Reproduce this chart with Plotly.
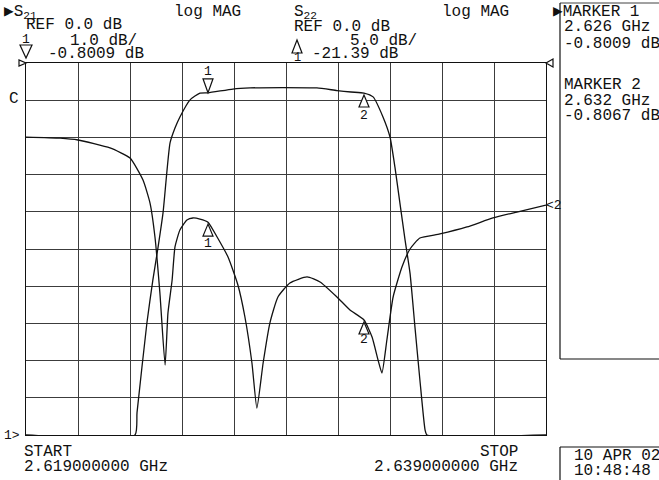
import plotly.graph_objects as go

# ---------------- data ----------------
START_GHZ = 2.619
STOP_GHZ = 2.639

# S21 (1 dB/div, ref 0 dB at top)
s21_off_mhz = [0, 4.19, 4.27, 4.65, 4.88, 5.08, 5.27, 5.54, 5.73, 5.92, 6.31, 6.69, 7.0,
               7.96, 8.62, 9.88, 11.19, 11.96, 12.5, 13.0, 13.35, 13.73, 14.0, 14.19,
               14.38, 14.58, 14.77, 14.96, 15.15, 15.35, 15.42, 20.0]
s21_db = [-10, -10, -9.4, -6.99, -5.83, -4.95, -4.03, -2.15, -1.75, -1.45, -0.99, -0.81, -0.8009,
          -0.70, -0.67, -0.66, -0.67, -0.74, -0.78, -0.8067, -0.91, -1.45, -1.99, -2.80,
          -3.76, -4.76, -5.65, -7.10, -8.52, -9.87, -10, -10]

# S22 (5 dB/div, ref 0 dB at top)
s22_off_mhz = [0, 1.31, 2.0, 3.23, 4.0, 4.5, 4.77, 4.96, 5.15, 5.35, 5.46, 5.62, 5.73, 5.92,
               6.19, 6.42, 6.69, 7.0, 7.35, 7.77, 8.15, 8.42, 8.69, 8.88, 9.12, 9.38,
               9.69, 10.15, 10.81, 11.31, 11.96, 12.46, 13.0, 13.31, 13.54, 13.69, 13.88,
               14.12, 14.46, 14.77, 15.15, 15.92, 16.96, 17.96, 18.88, 20.0]
s22_db = [-9.95, -10.1, -10.35, -11.42, -12.77, -15.73, -18.82, -23.39, -30.91, -40.59, -33.6,
          -29.17, -24.73, -22.45, -21.1, -20.83, -20.97, -21.39, -23.39, -26.08, -29.84,
          -34.14, -40.32, -46.37, -40.32, -34.95, -31.45, -29.57, -28.76, -29.43, -31.45,
          -33.2, -34.54, -36.83, -39.92, -41.67, -37.23, -31.45, -27.42, -25.0, -23.52,
          -22.98, -22.04, -20.83, -20.03, -19.09]

marker_freq_ghz = [2.626, 2.632]
marker_s21_db = [-0.8009, -0.8067]
marker_s22_db = [-21.39, -34.54]

s21_f = [START_GHZ + m / 1000 for m in s21_off_mhz]
s22_f = [START_GHZ + m / 1000 for m in s22_off_mhz]

# ---------------- layout helpers ----------------
W, H = 659, 480
L, R, T, B = 26, 546, 63, 435


def px(x):
    return (x - L) / (R - L)


def py(y):
    return (B - y) / (B - T)


FONT = "Liberation Mono, DejaVu Sans Mono, monospace"
INK = "#111111"

fig = go.Figure()
fig.add_trace(go.Scatter(x=s21_f, y=s21_db, mode="lines", yaxis="y",
                         line=dict(color=INK, width=1.3, shape="spline", smoothing=0.5),
                         showlegend=False, hoverinfo="skip"))
fig.add_trace(go.Scatter(x=s22_f, y=s22_db, mode="lines", yaxis="y2",
                         line=dict(color=INK, width=1.3, shape="spline", smoothing=0.5),
                         showlegend=False, hoverinfo="skip"))

ann = []


def txt(s, x, y, size=16, anchor="left"):
    ann.append(dict(text=s, x=px(x), y=py(y), xref="paper", yref="paper",
                    xanchor=anchor, yanchor="middle", showarrow=False,
                    font=dict(family=FONT, size=size, color=INK)))


# header channel 1
txt("▶S<sub>21</sub>", 2, 13)
txt("REF 0.0 dB", 24, 25)
txt("1", 26, 39, size=13, anchor="center")
txt("1.0 dB/", 68, 41)
txt("-0.8009 dB", 46, 54)
txt("log MAG", 172, 12)
# header channel 2
txt("S<sub>22</sub>", 292, 13)
txt("REF 0.0 dB", 292, 27)
txt("5.0 dB/", 348, 41)
txt("1", 297, 58, size=12, anchor="center")
txt("-21.39 dB", 310, 54)
txt("log MAG", 440, 12)
# marker panel
txt("▶MARKER 1", 551, 12)
txt("2.626 GHz", 562, 27)
txt("-0.8009 dB", 562, 44)
txt("MARKER 2", 562, 85)
txt("2.632 GHz", 562, 101)
txt("-0.8067 dB", 562, 116)
# side labels
txt("C", 7, 99)
txt("1>", 2, 435, size=13)
txt("<2", 544, 205, size=13)
# bottom
txt("START", 22, 452)
txt("2.619000000 GHz", 22, 467)
txt("STOP", 520, 452, anchor="right")
txt("2.639000000 GHz", 520, 467, anchor="right")
txt("10 APR 02", 572, 456)
txt("10:48:48", 572, 471)

# marker labels on traces
for f, v, yref, shift in [(marker_freq_ghz[0], marker_s21_db[0], "y", 21),
                          (marker_freq_ghz[1], marker_s21_db[1], "y", -22),
                          (marker_freq_ghz[0], marker_s22_db[0], "y2", -21),
                          (marker_freq_ghz[1], marker_s22_db[1], "y2", -20)]:
    lab = "1" if f == marker_freq_ghz[0] else "2"
    ann.append(dict(text=lab, x=f, y=v, xref="x", yref=yref, yshift=shift,
                    showarrow=False, font=dict(family=FONT, size=13, color=INK)))

shapes = []
# marker triangles (pixel sized, anchored on the traces)
tri_down = "M0,0 L-5,14 L5,14 Z"
tri_up = "M0,-2 L-5,-14 L5,-14 Z"
for f, v, yref, path in [(marker_freq_ghz[0], marker_s21_db[0], "y", tri_down),
                         (marker_freq_ghz[1], marker_s21_db[1], "y", tri_up),
                         (marker_freq_ghz[0], marker_s22_db[0], "y2", tri_up),
                         (marker_freq_ghz[1], marker_s22_db[1], "y2", tri_up)]:
    shapes.append(dict(type="path", xref="x", yref=yref, xsizemode="pixel", ysizemode="pixel",
                       xanchor=f, yanchor=v, path=path, line=dict(color=INK, width=1.2),
                       fillcolor="white"))


def ptri(pts):
    d = "M" + " L".join(f"{px(a):.5f},{py(b):.5f}" for a, b in pts) + " Z"
    return dict(type="path", xref="paper", yref="paper", path=d,
                line=dict(color=INK, width=1.2), fillcolor="white")


shapes.append(ptri([(20, 45), (32, 45), (26, 58)]))     # ▽ ch1
shapes.append(ptri([(297, 40), (292, 53), (302, 53)]))  # △ ch2
shapes.append(ptri([(19, 60), (19, 66), (26, 63)]))     # ref ch1
shapes.append(ptri([(553, 59), (553, 67), (546, 63)]))  # ref ch2


def pline(x0, y0, x1, y1, w=1.2):
    shapes.append(dict(type="line", xref="paper", yref="paper",
                       x0=px(x0), y0=py(y0), x1=px(x1), y1=py(y1),
                       line=dict(color=INK, width=w)))


# marker panel box
pline(560, 3, 560, 359)
pline(560, 359, 659, 359)
pline(560, 3, 659, 3, w=0.8)
# date box
pline(560, 447, 659, 447)
pline(560, 447, 560, 480)

fig.update_layout(
    width=W, height=H, autosize=False,
    margin=dict(l=L, r=W - R, t=T, b=H - B, pad=0),
    paper_bgcolor="white", plot_bgcolor="white",
    xaxis=dict(range=[START_GHZ, STOP_GHZ], tick0=START_GHZ, dtick=0.002,
               showgrid=True, gridcolor="#3c3c3c", gridwidth=1, zeroline=False,
               showticklabels=False, ticks="", showline=True, mirror=True,
               linecolor=INK, linewidth=1.2, fixedrange=True),
    yaxis=dict(range=[-10, 0], tick0=0, dtick=1, showgrid=True, gridcolor="#3c3c3c",
               gridwidth=1, zeroline=False, showticklabels=False, ticks="",
               showline=True, mirror=True, linecolor=INK, linewidth=1.2, fixedrange=True),
    yaxis2=dict(range=[-50, 0], overlaying="y", showgrid=False, zeroline=False,
                showticklabels=False, ticks="", showline=False, visible=False),
    annotations=ann, shapes=shapes,
    font=dict(family=FONT, color=INK),
)

fig.write_html("out.html", config={"displayModeBar": False},
               post_script="document.body.style.margin='0';document.body.style.overflow='hidden';")
